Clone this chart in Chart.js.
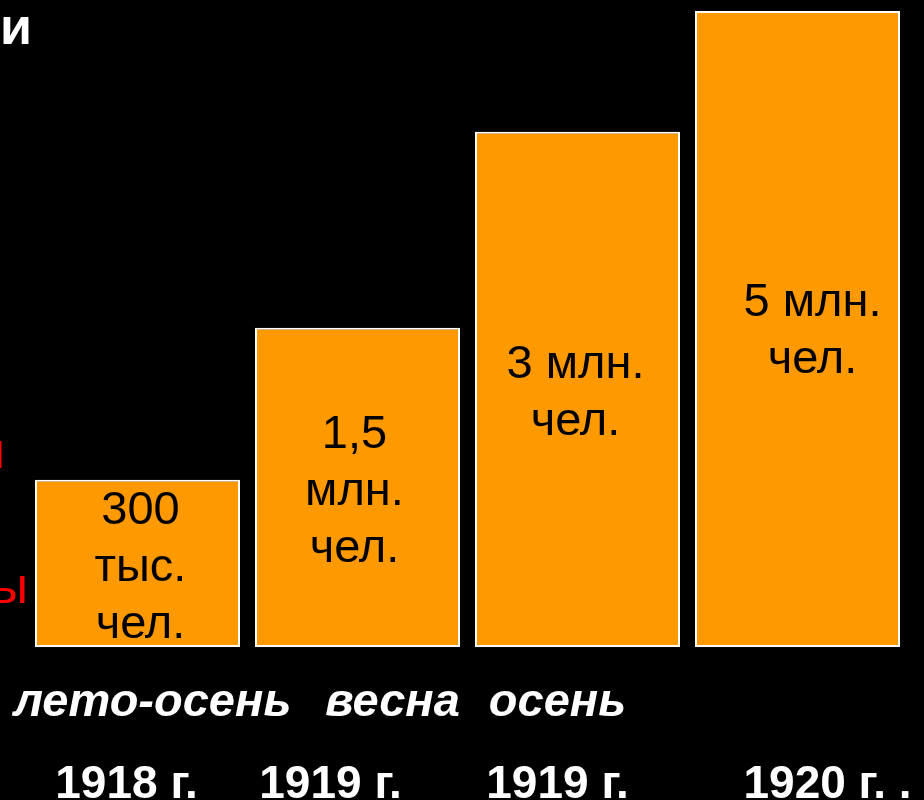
<!DOCTYPE html>
<html>
<head>
<meta charset="utf-8">
<title>Численность Красной армии</title>
<script src="https://cdn.jsdelivr.net/npm/chart.js@4/dist/chart.umd.min.js"></script>
<style>
    html, body { margin: 0; padding: 0; background: #000; overflow: hidden; }
    #chart_canvas { display: block; }
</style>
</head>
<body>
<canvas id="chart_canvas" width="924" height="800"></canvas>
<script>
// data
var seasons = ['лето-осень', 'весна', 'осень', ''];
var years = ['1918 г.', '1919 г.', '1919 г.', '1920 г. .'];
// bar heights as drawn on the slide (not to scale with the numbers)
var barHeights = [26.3, 50.2, 81, 100];
var valueLabels = [
    ['300', 'тыс.', 'чел.'],
    ['1,5', 'млн.', 'чел.'],
    ['3 млн.', 'чел.'],
    ['5 млн.', 'чел.']
];

var FONT = "'Liberation Sans', Arial, sans-serif";

var slidePlugin = {
    id: 'slide',
    beforeDraw: function (chart) {
        var c = chart.ctx;
        c.save();
        c.fillStyle = '#000';
        c.fillRect(0, 0, chart.width, chart.height);
        c.restore();
    },
    afterDraw: function (chart, args, opts) {
        var c = chart.ctx;
        var xs = chart.scales.x;
        var bars = chart.getDatasetMeta(0).data;
        c.save();

        // text inside the bars
        c.fillStyle = '#000';
        c.textAlign = 'center';
        c.textBaseline = 'alphabetic';
        c.font = '47px ' + FONT;
        bars.forEach(function (bar, i) {
            var lines = valueLabels[i];
            for (var k = 0; k < lines.length; k++) {
                c.fillText(lines[k], bar.x + opts.labelDx[i], bar.y + opts.labelTop[i] + k * 57);
            }
        });

        // category labels under the bars
        c.fillStyle = '#fff';
        c.font = 'italic bold 47px ' + FONT;
        seasons.forEach(function (s, i) {
            if (s) c.fillText(s, xs.getPixelForValue(i) + opts.seasonDx[i], 716);
        });
        c.font = 'bold 46px ' + FONT;
        years.forEach(function (y, i) {
            c.fillText(y, xs.getPixelForValue(i) + opts.yearDx[i], 798);
        });

        // cut-off slide text at the left edge
        c.textAlign = 'left';
        c.font = 'bold 52px ' + FONT;
        c.fillText('и', 0, 44);
        c.fillStyle = '#ff0000';
        c.textAlign = 'right';
        c.font = '50px ' + FONT;
        c.fillText('и', 5, 468);
        c.fillText('ы', 28, 603);

        c.restore();
    }
};

var ctx = document.getElementById('chart_canvas').getContext('2d');

var chart = new Chart(ctx, {
    type: 'bar',
    data: {
        labels: years,
        datasets: [
            {
                data: barHeights,
                backgroundColor: '#ff9900',
                borderColor: '#ffffff',
                borderWidth: 2,
                borderSkipped: false,
                barPercentage: 1,
                categoryPercentage: 205 / 220
            }
        ]
    },
    options: {
        responsive: false,
        animation: false,
        devicePixelRatio: 1,
        layout: {
            padding: { left: 27.5, right: 16.5, top: 11, bottom: 153 }
        },
        scales: {
            x: { display: false },
            y: { display: false, min: 0, max: 100 }
        },
        plugins: {
            legend: { display: false },
            tooltip: { enabled: false },
            slide: {
                labelTop: [44, 120, 246, 305],
                labelDx: [3, -3, -2, 15],
                seasonDx: [15, 35, -20, 0],
                yearDx: [-11, -27, -20, 30]
            }
        }
    },
    plugins: [slidePlugin]
});
</script>
</body>
</html>
